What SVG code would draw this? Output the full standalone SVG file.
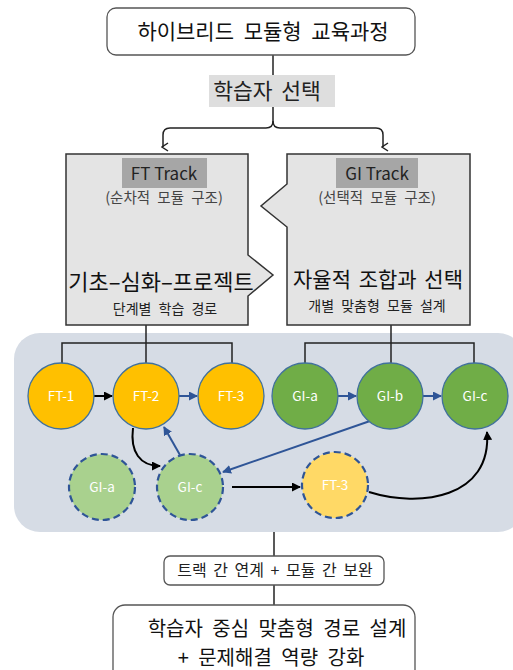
<svg xmlns="http://www.w3.org/2000/svg" width="513" height="670" viewBox="0 0 513 670">
<defs>
<style>
text{font-family:"Noto Sans CJK KR","Noto Sans",sans-serif;text-anchor:middle;}
.box{fill:#fff;stroke:#555;stroke-width:1.3;}
.track{fill:#e4e4e4;stroke:#333;stroke-width:1.5;}
.lab{fill:#a6a6a6;}
.ln{stroke:#222;stroke-width:1.5;fill:none;}
.thin{stroke:#555;stroke-width:1;fill:none;}
.ft{fill:#ffc000;stroke:#41719c;stroke-width:1.3;}
.gi{fill:#70ad47;stroke:#41719c;stroke-width:1.3;}
.gid{fill:#a9d18e;stroke:#2f5597;stroke-width:2.2;stroke-dasharray:7 4;}
.ftd{fill:#ffd966;stroke:#2f5597;stroke-width:2.2;stroke-dasharray:7 4;}
.ct{fill:#fff;font-size:13.5px;}
.blue{stroke:#2f5597;stroke-width:2;fill:none;}
.blk{stroke:#000;stroke-width:2;fill:none;}
.sub{font-size:14.5px;fill:#444;word-spacing:4px;}
.cap{font-size:14px;fill:#222;word-spacing:4px;}
</style>
<marker id="open" markerWidth="10" markerHeight="10" refX="5" refY="8" orient="auto-start-reverse" markerUnits="userSpaceOnUse" viewBox="0 0 10 10">
<path d="M1,3 L5,9 L9,3" fill="none" stroke="#222" stroke-width="1.5"/>
</marker>
<marker id="ag" markerWidth="8" markerHeight="8" refX="7" refY="4" orient="auto" markerUnits="userSpaceOnUse" viewBox="0 0 8 8">
<path d="M0,0 L8,4 L0,8 Z" fill="#444"/>
</marker>
<marker id="ab" markerWidth="9" markerHeight="9" refX="8" refY="4.5" orient="auto" markerUnits="userSpaceOnUse" viewBox="0 0 9 9">
<path d="M0,0 L9,4.5 L0,9 Z" fill="#000"/>
</marker>
<marker id="au" markerWidth="9" markerHeight="9" refX="8" refY="4.5" orient="auto" markerUnits="userSpaceOnUse" viewBox="0 0 9 9">
<path d="M0,0 L9,4.5 L0,9 Z" fill="#2f5597"/>
</marker>
</defs>

<rect x="14" y="333" width="510" height="199" rx="26" fill="#d6dce5"/>

<g id="connectors">
<line class="ln" x1="273" y1="55" x2="273" y2="76"/>
<path class="ln" d="M273,107 L273,121 Q273,128 266,128 L170,128 Q163,128 163,135 L163,147" marker-end="url(#open)"/>
<path class="ln" d="M273,121 Q273,128 280,128 L376,128 Q383,128 383,135 L383,147" marker-end="url(#open)"/>
<line class="thin" x1="138" y1="215" x2="102" y2="256" marker-end="url(#ag)"/>
<line class="thin" x1="165" y1="215" x2="165" y2="258" marker-end="url(#ag)"/>
<line class="thin" x1="191" y1="215" x2="227" y2="256" marker-end="url(#ag)"/>
<line class="thin" x1="377" y1="212" x2="377" y2="258" marker-end="url(#ag)"/>
<line class="ln" x1="146" y1="325" x2="146" y2="363"/>
<path class="ln" d="M62,363 L62,343 L232,343 L232,363"/>
<line class="ln" x1="391" y1="325" x2="391" y2="363"/>
<path class="ln" d="M305,363 L305,343 L474,343 L474,363"/>
<line class="blk" x1="94" y1="396" x2="112" y2="396" marker-end="url(#ab)"/>
<line class="blue" x1="179" y1="396" x2="197" y2="396" marker-end="url(#au)"/>
<line class="blue" x1="338" y1="396" x2="356" y2="396" marker-end="url(#au)"/>
<line class="blue" x1="423" y1="396" x2="441" y2="396" marker-end="url(#au)"/>
<path class="blk" d="M133,428 C130,452 140,466 160,466" marker-end="url(#ab)"/>
<line class="blue" x1="180" y1="455" x2="164" y2="427" marker-end="url(#au)"/>
<line class="blue" x1="370" y1="421" x2="223" y2="472" marker-end="url(#au)"/>
<line class="blk" x1="232" y1="487" x2="300" y2="487" marker-end="url(#ab)"/>
<path class="blk" stroke-width="2.5" d="M369,492 C420,508 492,498 487,432" marker-end="url(#ab)"/>
<line class="ln" x1="274" y1="532" x2="274" y2="556"/>
<line class="ln" x1="274" y1="585" x2="274" y2="605"/>
</g>

<g id="title">
<rect class="box" x="107" y="8" width="308" height="47" rx="9"/>
<text x="263" y="39" font-size="21" fill="#111" word-spacing="5">하이브리드 모듈형 교육과정</text>
</g>

<g id="choice">
<rect x="209" y="75" width="126" height="32" fill="#dedede"/>
<text x="267" y="99" font-size="21.5" fill="#222" word-spacing="4">학습자 선택</text>
</g>

<g id="ft-track">
<path class="track" d="M66,154 L248,154 L248,255 L273,275 L248,296 L248,325 L66,325 Z"/>
<rect class="lab" x="122" y="158" width="85" height="30"/>
<text x="164" y="180" font-size="17" fill="#222">FT Track</text>
<text class="sub" x="164" y="203">(순차적 모듈 구조)</text>
<text x="161" y="290" font-size="22" fill="#111">기초–심화–프로젝트</text>
<text class="cap" x="165" y="314">단계별 학습 경로</text>
</g>

<g id="gi-track">
<path class="track" d="M287,154 L470,154 L470,325 L287,325 L287,227 L261,206 L287,184 Z"/>
<rect class="lab" x="336" y="158" width="82" height="30"/>
<text x="377" y="180" font-size="17" fill="#222">GI Track</text>
<text class="sub" x="377" y="203">(선택적 모듈 구조)</text>
<text x="378" y="287" font-size="21" fill="#111" word-spacing="3">자율적 조합과 선택</text>
<text class="cap" x="377" y="311">개별 맞춤형 모듈 설계</text>
</g>

<g id="ft1"><circle class="ft" cx="61" cy="396" r="33"/><text class="ct" x="61" y="401">FT-1</text></g>
<g id="ft2"><circle class="ft" cx="146" cy="396" r="33"/><text class="ct" x="146" y="401">FT-2</text></g>
<g id="ft3"><circle class="ft" cx="231" cy="396" r="33"/><text class="ct" x="231" y="401">FT-3</text></g>
<g id="gia"><circle class="gi" cx="305" cy="396" r="33"/><text class="ct" x="305" y="401">GI-a</text></g>
<g id="gib"><circle class="gi" cx="390" cy="396" r="33"/><text class="ct" x="390" y="401">GI-b</text></g>
<g id="gic"><circle class="gi" cx="475" cy="396" r="33"/><text class="ct" x="475" y="401">GI-c</text></g>
<g id="gia-d"><circle class="gid" cx="102" cy="487" r="33"/><text class="ct" x="102" y="492">GI-a</text></g>
<g id="gic-d"><circle class="gid" cx="190" cy="487" r="33"/><text class="ct" x="190" y="492">GI-c</text></g>
<g id="ft3-d"><circle class="ftd" cx="335" cy="485" r="33"/><text class="ct" x="335" y="490">FT-3</text></g>

<g id="link">
<rect class="box" x="164" y="556" width="220" height="29" rx="6"/>
<text x="275" y="576" font-size="16" fill="#222" word-spacing="3">트랙 간 연계 + 모듈 간 보완</text>
</g>

<g id="result">
<rect class="box" x="113" y="605" width="302" height="80" rx="12"/>
<text x="277" y="636" font-size="20" fill="#111" word-spacing="5">학습자 중심 맞춤형 경로 설계</text>
<text x="271" y="665" font-size="20" fill="#111" word-spacing="5">+ 문제해결 역량 강화</text>
</g>
</svg>
